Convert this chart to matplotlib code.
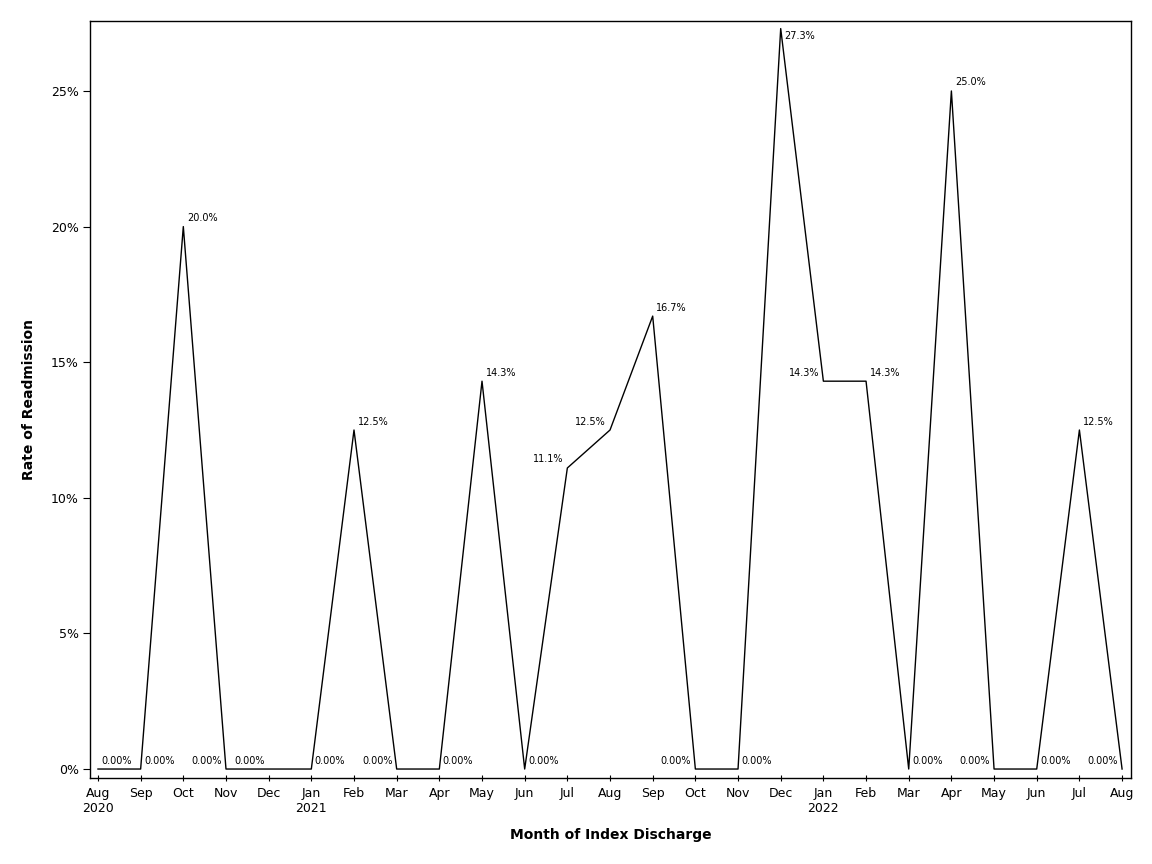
import numpy as np
import matplotlib
matplotlib.use("Agg")
import matplotlib.pyplot as plt

# Monthly readmission rate (%), Aug 2020 .. Aug 2022
months = ['Aug', 'Sep', 'Oct', 'Nov', 'Dec',
          'Jan', 'Feb', 'Mar', 'Apr', 'May', 'Jun', 'Jul', 'Aug', 'Sep', 'Oct', 'Nov', 'Dec',
          'Jan', 'Feb', 'Mar', 'Apr', 'May', 'Jun', 'Jul', 'Aug']
years = {0: '2020', 5: '2021', 17: '2022'}
rates = [0.0, 0.0, 20.0, 0.0, 0.0,
         0.0, 12.5, 0.0, 0.0, 14.3, 0.0, 11.1, 12.5, 16.7, 0.0, 0.0, 27.3,
         14.3, 14.3, 0.0, 25.0, 0.0, 0.0, 12.5, 0.0]
labels = ['0.00%' if r == 0 else f'{r:.1f}%' for r in rates]
# label side relative to the point (R = right, L = left)
sides = ['R', 'R', 'R', 'L', 'L',
         'R', 'R', 'L', 'R', 'R', 'R', 'L', 'L', 'R', 'L', 'R', 'R',
         'L', 'R', 'R', 'R', 'L', 'R', 'R', 'L']

x = np.arange(len(rates))

fig = plt.figure(figsize=(11.52, 8.64), dpi=100)
ax = fig.add_axes([0.0781, 0.0995, 0.9037, 0.8762])

ax.plot(x, rates, color='black', lw=1.0)

for xi, r, lab, s in zip(x, rates, labels, sides):
    dx = 2.5 if s == 'R' else -3.0
    ha = 'left' if s == 'R' else 'right'
    if r == max(rates):
        ax.annotate(lab, (xi, r), xytext=(dx, -2), textcoords='offset points',
                    ha=ha, va='top', fontsize=7)
    else:
        ax.annotate(lab, (xi, r), xytext=(dx, 2.5), textcoords='offset points',
                    ha=ha, va='bottom', fontsize=7)

ax.set_xlim(-0.1875, 24.21)
ax.set_ylim(-0.332, 27.58)
ax.set_yticks([0, 5, 10, 15, 20, 25])
ax.set_yticklabels([f'{v}%' for v in [0, 5, 10, 15, 20, 25]])
ax.set_xticks(x)
ax.set_xticklabels([m + ('\n' + years[i] if i in years else '') for i, m in enumerate(months)])

ax.tick_params(axis='y', direction='out', length=5, width=0.8, labelsize=9, pad=3)
ax.tick_params(axis='x', direction='inout', length=5, width=0.8, labelsize=9, pad=4)
for sp in ax.spines.values():
    sp.set_linewidth(1.0)

ax.set_xlabel('Month of Index Discharge', fontsize=10, fontweight='bold', labelpad=9)
ax.set_ylabel('Rate of Readmission', fontsize=10, fontweight='bold', labelpad=11)

fig.savefig('out.png', dpi=100)
